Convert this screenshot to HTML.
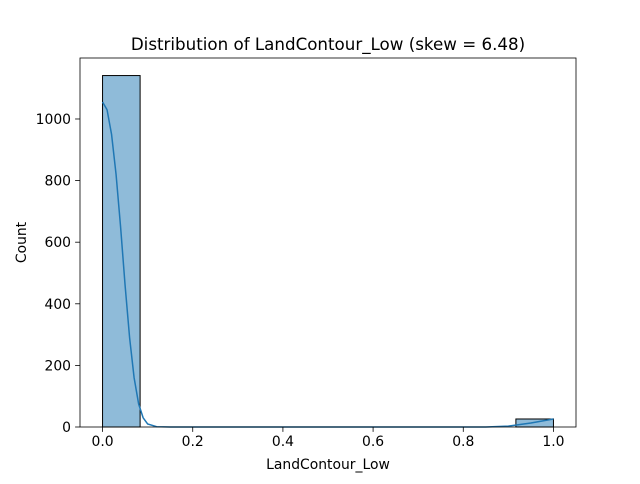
<!DOCTYPE html>
<html><head><meta charset="utf-8"><style>
body{margin:0;background:#fff;font-family:"DejaVu Sans","Liberation Sans",sans-serif;}
</style></head><body>
<svg id="chart" width="640" height="480" xmlns="http://www.w3.org/2000/svg" style="font-family:'DejaVu Sans','Liberation Sans',sans-serif">
<rect width="640" height="480" fill="#fff"/>
<g id="plot"></g>
</svg>
<script>
const binEdges=[0,0.0833,0.1667,0.25,0.3333,0.4167,0.5,0.5833,0.6667,0.75,0.8333,0.9167,1.0];
const binCounts=[1141,0,0,0,0,0,0,0,0,0,0,26];
const kdeX=[0,0.01,0.02,0.03,0.04,0.05,0.06,0.07,0.08,0.09,0.1,0.12,0.15,0.3,0.5,0.7,0.85,0.9,0.95,1.0];
const kdeY=[1055,1030,950,820,650,460,290,160,75,30,10,1,0,0,0,0,0,3,13,26];
const xTicks=[0,0.2,0.4,0.6,0.8,1.0];
const xTickLabels=["0.0","0.2","0.4","0.6","0.8","1.0"];
const yTicks=[0,200,400,600,800,1000];
const yTickLabels=["0","200","400","600","800","1000"];

const L=80,R=576,T=58,B=427;
const xMin=-0.05,xMax=1.05,yMin=0,yMax=1198;
const sx=v=>L+(v-xMin)/(xMax-xMin)*(R-L);
const sy=v=>B-(v-yMin)/(yMax-yMin)*(B-T);
const NS="http://www.w3.org/2000/svg";
const g=document.getElementById('plot');
function mk(tag,attrs){const e=document.createElementNS(NS,tag);for(const k in attrs)e.setAttribute(k,attrs[k]);g.appendChild(e);return e;}

binCounts.forEach((c,i)=>{
  if(c<=0)return;
  const r=mk('rect',{x:sx(binEdges[i]),y:sy(c),width:sx(binEdges[i+1])-sx(binEdges[i]),height:sy(0)-sy(c),fill:'rgba(31,119,180,0.5)',stroke:'#000','stroke-width':1});
  
  
});
const d=kdeX.map((x,i)=>(i?'L':'M')+sx(x).toFixed(2)+','+sy(kdeY[i]).toFixed(2)).join(' ');
const kde=mk('path',{d:d,fill:'none',stroke:'#1f77b4','stroke-width':1.5});



const frame=mk('rect',{x:L,y:T,width:R-L,height:B-T,fill:'none',stroke:'#000','stroke-width':0.8});



xTicks.forEach((v,i)=>{
  const x=sx(v);
  const t=mk('line',{x1:x,x2:x,y1:B,y2:B+4.9,stroke:'#000','stroke-width':0.8});
  
  
  const tx=mk('text',{x:x,y:B+19,'text-anchor':'middle','font-size':13.9,fill:'#000'});
  tx.textContent=xTickLabels[i];
  
  
});
yTicks.forEach((v,i)=>{
  const y=sy(v);
  const t=mk('line',{x1:L-4.9,x2:L,y1:y,y2:y,stroke:'#000','stroke-width':0.8});
  
  
  const tx=mk('text',{x:L-9,y:y+5,'text-anchor':'end','font-size':13.9,fill:'#000'});
  tx.textContent=yTickLabels[i];
  
  
});
const xt=mk('text',{x:(L+R)/2,y:469,'text-anchor':'middle','font-size':13.9,fill:'#000'});
xt.textContent='LandContour_Low';


const yt=mk('text',{x:0,y:0,'text-anchor':'middle','font-size':13.9,fill:'#000',transform:'translate(26,'+((T+B)/2)+') rotate(-90)'});
yt.textContent='Count';


const ti=mk('text',{x:(L+R)/2,y:50,'text-anchor':'middle','font-size':16.7,fill:'#000'});
ti.textContent='Distribution of LandContour_Low (skew = 6.48)';


</script>
</body></html>
